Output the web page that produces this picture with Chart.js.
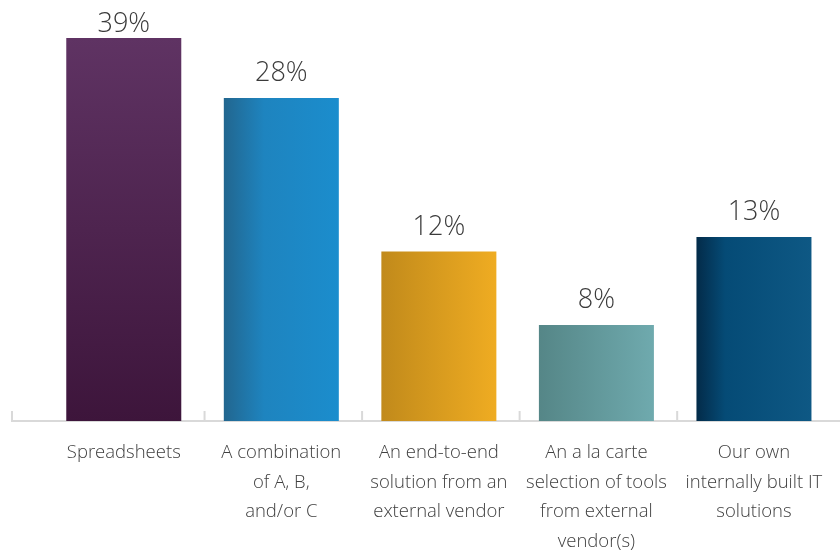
<!DOCTYPE html>
<html>
<head>
<meta charset="utf-8">
<script src="https://cdn.jsdelivr.net/npm/chart.js@4.4.1/dist/chart.umd.min.js"></script>
<style>
  html, body { margin: 0; padding: 0; background: #ffffff; }
  #wrap { width: 840px; height: 551px; position: relative; }
</style>
</head>
<body>
<div id="wrap"><canvas id="c"></canvas></div>
<script>
// ---- data ----
const categories = [
  ["Spreadsheets"],
  ["A combination", "of A, B,", "and/or C"],
  ["An end-to-end", "solution from an", "external vendor"],
  ["An a la carte", "selection of tools", "from external", "vendor(s)"],
  ["Our own", "internally built IT", "solutions"]
];
const values = [39, 28, 12, 8, 13];
const valueLabels = ["39%", "28%", "12%", "8%", "13%"];

// ---- styles ----
const barGradients = [
  { dir: "v", stops: [[0, "#5f3363"], [1, "#3d153b"]] },
  { dir: "h", stops: [[0, "#22668f"], [0.35, "#1e84bf"], [1, "#1b8dcd"]] },
  { dir: "h", stops: [[0, "#c18a1b"], [1, "#efac22"]] },
  { dir: "h", stops: [[0, "#558687"], [1, "#6faaae"]] },
  { dir: "h", stops: [[0, "#032b49"], [0.25, "#054b76"], [1, "#0e5884"]] }
];
const BAR_FRACTION = 0.73;

function barFill(ctx) {
  const chart = ctx.chart;
  const area = chart.chartArea;
  const g = barGradients[ctx.dataIndex];
  if (!area || !chart.scales.x) return g.stops[g.stops.length - 1][1];
  const xs = chart.scales.x;
  const cx = xs.getPixelForValue(ctx.dataIndex);
  const half = (xs.width / categories.length) * BAR_FRACTION / 2;
  let grad;
  if (g.dir === "v") {
    const top = chart.scales.y.getPixelForValue(values[ctx.dataIndex]);
    grad = chart.ctx.createLinearGradient(0, top, 0, area.bottom);
  } else {
    grad = chart.ctx.createLinearGradient(cx - half, 0, cx + half, 0);
  }
  g.stops.forEach(s => grad.addColorStop(s[0], s[1]));
  return grad;
}

const axisPlugin = {
  id: "axisDeco",
  beforeDatasetsDraw(chart) {
    const c = chart.ctx;
    const xs = chart.scales.x;
    const y0 = chart.chartArea.bottom;
    c.save();
    c.strokeStyle = "#d9d9d9";
    c.lineWidth = 2;
    c.beginPath();
    c.moveTo(11, y0);
    c.lineTo(840, y0);
    const tickXs = [12];
    for (let i = 1; i < categories.length; i++) {
      tickXs.push((xs.getPixelForValue(i - 1) + xs.getPixelForValue(i)) / 2 + 2);
    }
    tickXs.forEach(tx => { c.moveTo(tx, y0); c.lineTo(tx, y0 - 10); });
    c.stroke();
    c.restore();
  },
  afterDatasetsDraw(chart) {
    const c = chart.ctx;
    const meta = chart.getDatasetMeta(0);
    c.save();
    c.font = "300 27px 'Open Sans', sans-serif";
    c.fillStyle = "#3b3b3b";
    c.textAlign = "center";
    c.textBaseline = "alphabetic";
    meta.data.forEach((bar, i) => {
      const y = Math.max(32, bar.y - 17);
      c.fillText(valueLabels[i], bar.x, y);
    });
    c.restore();
  }
};

new Chart(document.getElementById("c"), {
  type: "bar",
  data: {
    labels: categories,
    datasets: [{
      data: values,
      backgroundColor: barFill,
      borderWidth: 0,
      categoryPercentage: 1,
      barPercentage: BAR_FRACTION
    }]
  },
  options: {
    responsive: true,
    maintainAspectRatio: false,
    animation: false,
    layout: { padding: { left: 45, right: 7, top: 38, bottom: 0 } },
    plugins: { legend: { display: false }, tooltip: { enabled: false } },
    scales: {
      x: {
        grid: { display: false, drawTicks: false },
        border: { display: false },
        ticks: {
          color: "#404040",
          padding: 17,
          maxRotation: 0,
          autoSkip: false,
          font: { family: "'Open Sans', sans-serif", size: 18.5, weight: 300, lineHeight: 1.6 }
        },
        afterFit(scale) { scale.height = 130; }
      },
      y: {
        type: "logarithmic",
        min: 4.71,
        max: 39,
        bounds: "data",
        display: false
      }
    }
  },
  plugins: [axisPlugin]
});
</script>
</body>
</html>
